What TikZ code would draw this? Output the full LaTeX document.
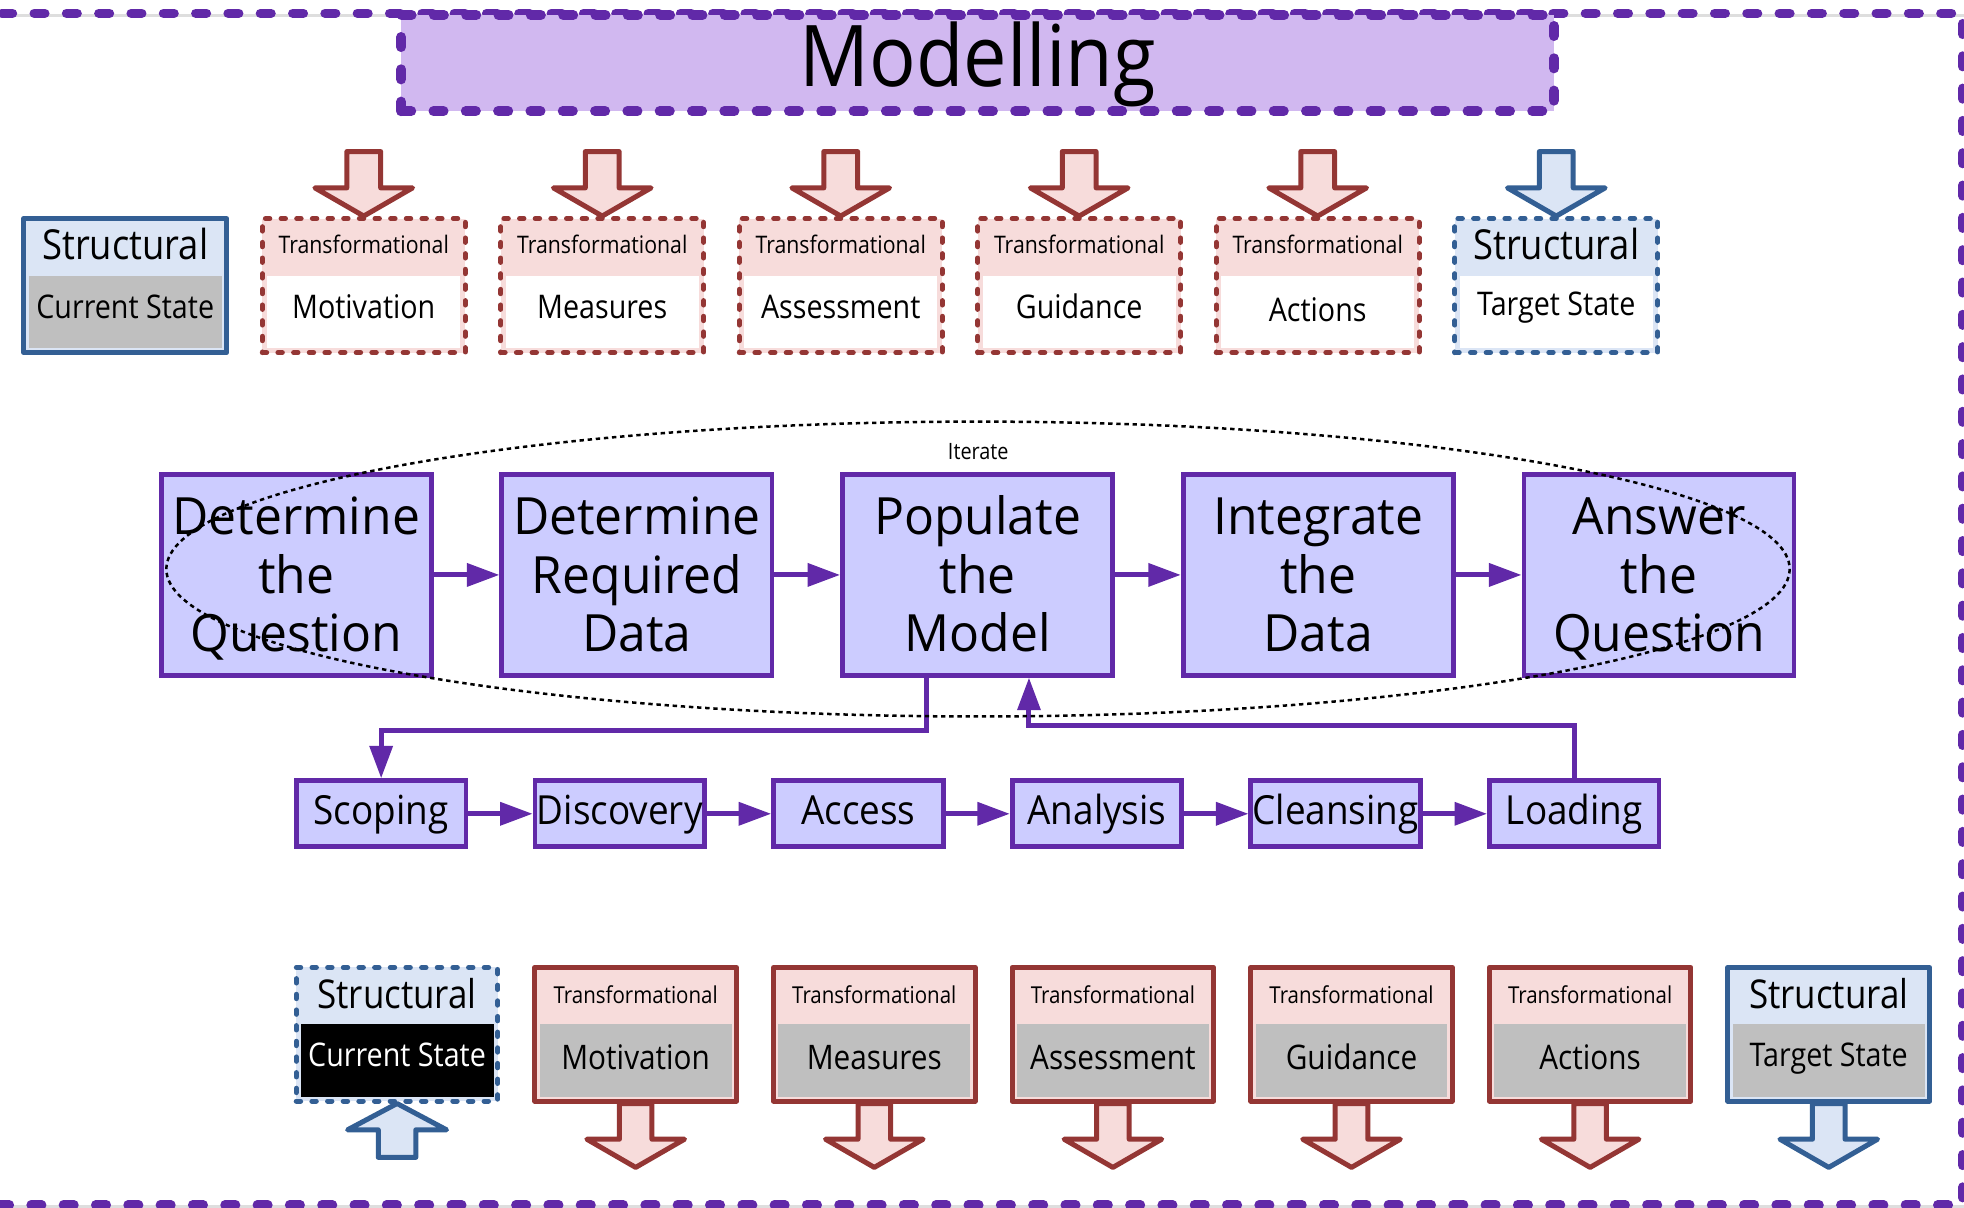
\documentclass[tikz,border=0pt]{standalone}
\usepackage{fontspec}
\setmainfont[FakeStretch=0.88]{Open Sans}
\newfontfamily\stepfam[FakeStretch=0.97]{Open Sans}
\newfontfamily\procfam[FakeStretch=0.92]{Open Sans}
\newfontfamily\titlefam[FakeStretch=0.91]{Open Sans}
\usetikzlibrary{arrows.meta}

\definecolor{mpurple}{RGB}{97,41,168}
\definecolor{mlav}{RGB}{209,184,240}
\definecolor{mproc}{RGB}{204,204,255}
\definecolor{sblue}{RGB}{51,95,148}
\definecolor{slight}{RGB}{219,229,245}
\definecolor{tred}{RGB}{148,54,52}
\definecolor{tpink}{RGB}{247,220,219}
\definecolor{igray}{RGB}{191,191,191}

\newcommand\fsz[2]{\fontsize{#1}{#2}\selectfont}
\newcommand\stepfont{\stepfam\fontsize{41}{46.6}\selectfont\lineskiplimit=-100pt\relax}
% line strut so every three-line label sits the same way in its box
\newcommand\lstrut{\rule[-11pt]{0pt}{51.4pt}}

\tikzset{
  card/.style={rectangle, inner sep=0pt, line width=4pt, line join=round},
  cardtop/.style={card, minimum width=162pt, minimum height=107pt},
  cardbot/.style={card, minimum width=161pt, minimum height=106.6pt},
  dashedge/.style={dash pattern=on 3.5pt off 9pt, line cap=round},
  redcard/.style={draw=tred, fill=tpink},
  bluecard/.style={draw=sblue, fill=slight},
  pane/.style={rectangle, inner sep=0pt, draw=none, minimum height=58pt},
  hdr/.style={anchor=base, inner sep=0pt, font=\fsz{19.3}{22}},
  hdrb/.style={anchor=base, inner sep=0pt, font=\fsz{18.6}{22}},
  sttl/.style={anchor=base, inner sep=0pt, font=\fsz{33}{38}},
  sttlb/.style={anchor=base, inner sep=0pt, font=\fsz{31.7}{36}},
  body/.style={anchor=base, inner sep=0pt, font=\fsz{26}{30}},
  bodyb/.style={anchor=base, inner sep=0pt, font=\fsz{27}{31}},
  blockred/.style={draw=tred, fill=tpink, line width=4pt, line join=round},
  blockblue/.style={draw=sblue, fill=slight, line width=4pt, line join=round},
  bigbox/.style={rectangle, inner sep=0pt, draw=mpurple, fill=mproc, line width=3.8pt,
    minimum width=215.7pt, minimum height=160.2pt, align=center, font=\stepfont},
  procbox/.style={rectangle, inner sep=0pt, draw=mpurple, fill=mproc, line width=3.8pt,
    minimum width=135.3pt, minimum height=52.8pt, font=\procfam\fsz{32}{36},
    text height=22pt, text depth=5.4pt},
  flow/.style={draw=mpurple, line width=4pt, -{Triangle[length=26pt,width=18pt]}},
  titlebox/.style={rectangle, inner sep=0pt, draw=mpurple, fill=mlav, line width=8pt,
    dash pattern=on 8pt off 17.8pt, line cap=round,
    minimum width=920.4pt, minimum height=76.7pt, font=\titlefam\fsz{68}{80},
    text height=49pt, text depth=12.4pt},
  frameline/.style={draw=mpurple, line width=7.5pt, dash pattern=on 8.5pt off 17.3pt, line cap=round},
  iterloop/.style={draw=black, line width=2pt, dash pattern=on 3.5pt off 3pt},
  pics/toparrow/.style={code={
    \path[pic actions] (-13.5,-51.5) -- (-13.5,-22.5) -- (-39,-22.5) -- (0,0)
      -- (39,-22.5) -- (13.5,-22.5) -- (13.5,-51.5) -- cycle;}},
  pics/botarrow/.style={code={
    \path[pic actions] (-13,0) -- (-13,28.5) -- (-39,28.5) -- (0,51)
      -- (39,28.5) -- (13,28.5) -- (13,0) -- cycle;}},
  pics/uparrow/.style={code={
    \path[pic actions] (0,0) -- (39.5,21) -- (15,21) -- (15,43)
      -- (-15,43) -- (-15,21) -- (-39.5,21) -- cycle;}},
}

\begin{document}
\begin{tikzpicture}[x=1pt, y=-1pt]
\useasboundingbox (0,0) rectangle (1568,964);

% page frame with its faint shadow
\draw[black!13, line width=2.5pt] (0,12.5) -- (1568,12.5);
\draw[black!13, line width=2.5pt] (0,963.5) -- (1568,963.5);
\draw[frameline] (-30,10.6) rectangle (1567,962);

% title banner
\node[titlebox] (mod) at (780.5,50.4) {Modelling};

% ---------- upper row of cards ----------
\node[cardtop, bluecard] (tc) at (100,228) {};
\node[pane, fill=igray, minimum width=154pt] (tcp) at (100,249) {};
\node[sttl] (tch) at (100,207) {Structural};
\node[body] (tcb) at (100,254) {Current State};

\foreach \i/\lab/\by in {1/Motivation/254,2/Measures/254,3/Assessment/254,4/Guidance/254,5/Actions/256.5}{
  \pgfmathsetmacro\cx{100+190.4*\i}
  \node[cardtop, redcard, dashedge] (tt\i) at (\cx,228) {};
  \node[pane, fill=white, minimum width=154pt] (ttp\i) at (\cx,249) {};
  \node[hdr] (tth\i) at (\cx,202) {Transformational};
  \node[body] (ttb\i) at (\cx,\by) {\lab};
  \pic[blockred] at (tt\i.north) {toparrow};
}

\node[cardtop, bluecard, dashedge] (tg) at (1242.5,228) {};
\node[pane, fill=white, minimum width=154pt] (tgp) at (1242.5,249) {};
\node[sttl] (tgh) at (1242.5,207) {Structural};
\node[body] (tgb) at (1242.5,251.5) {Target State};
\pic[blockblue] at (tg.north) {toparrow};

% ---------- main modelling steps ----------
\node[bigbox] (q1) at (236.5,459) {\lstrut Determine\\\lstrut the\\\lstrut Question};
\node[bigbox] (q2) at (508.5,459) {\lstrut Determine\\\lstrut Required\\\lstrut Data};
\node[bigbox] (q3) at (780.5,459) {\lstrut Populate\\\lstrut the\\\lstrut Model};
\node[bigbox] (q4) at (1052.5,459) {\lstrut Integrate\\\lstrut the\\\lstrut Data};
\node[bigbox] (q5) at (1324.5,459) {\lstrut Answer\\\lstrut the\\\lstrut Question};
\draw[flow] (q1) -- (q2);
\draw[flow] (q2) -- (q3);
\draw[flow] (q3) -- (q4);
\draw[flow] (q4) -- (q5);

% ---------- data pipeline ----------
\node[procbox] (p1) at (304.3,649.7) {Scoping};
\node[procbox] (p2) at (494.8,649.7) {Discovery};
\node[procbox] (p3) at (685.3,649.7) {Access};
\node[procbox] (p4) at (875.8,649.7) {Analysis};
\node[procbox] (p5) at (1066.3,649.7) {Cleansing};
\node[procbox] (p6) at (1256.8,649.7) {Loading};
\draw[flow] (p1) -- (p2);
\draw[flow] (p2) -- (p3);
\draw[flow] (p3) -- (p4);
\draw[flow] (p4) -- (p5);
\draw[flow] (p5) -- (p6);

\draw[flow] ([xshift=-41pt]q3.south) -- ++(0,42) -| (p1.north);
\draw[flow] (p6.north) -- ++(0,-42.3) -| ([xshift=41pt]q3.south);

% iteration loop
\draw[iterloop] (780.8,454.3) ellipse [x radius=648, y radius=117.7];
\node[anchor=base, inner sep=0pt, font=\fsz{18}{20}] (iter) at (781,366.5) {Iterate};

% ---------- lower row of cards ----------
\node[cardbot, bluecard, dashedge] (bc) at (317,825.7) {};
\node[pane, fill=black, minimum width=154pt] (bcp) at (317,846.5) {};
\node[sttlb] (bch) at (317,805) {Structural};
\node[body, text=white] (bcb) at (317,851.6) {Current State};
\pic[blockblue] at (bc.south) {uparrow};

\foreach \i/\lab in {1/Motivation,2/Measures,3/Assessment,4/Guidance,5/Actions}{
  \pgfmathsetmacro\cx{317+190.5*\i}
  \node[cardbot, redcard] (bt\i) at (\cx,825.7) {};
  \node[pane, fill=igray, minimum width=153pt] (btp\i) at (\cx,846.5) {};
  \node[hdrb] (bth\i) at (\cx,801) {Transformational};
  \node[bodyb] (btb\i) at (\cx,853.5) {\lab};
  \pic[blockred] at (bt\i.south) {botarrow};
}

\node[cardbot, bluecard] (bg) at (1460,825.7) {};
\node[pane, fill=igray, minimum width=153pt] (bgp) at (1460,846.5) {};
\node[sttlb] (bgh) at (1460,805) {Structural};
\node[body] (bgb) at (1460,851.6) {Target State};
\pic[blockblue] at (bg.south) {botarrow};

\end{tikzpicture}
\end{document}
